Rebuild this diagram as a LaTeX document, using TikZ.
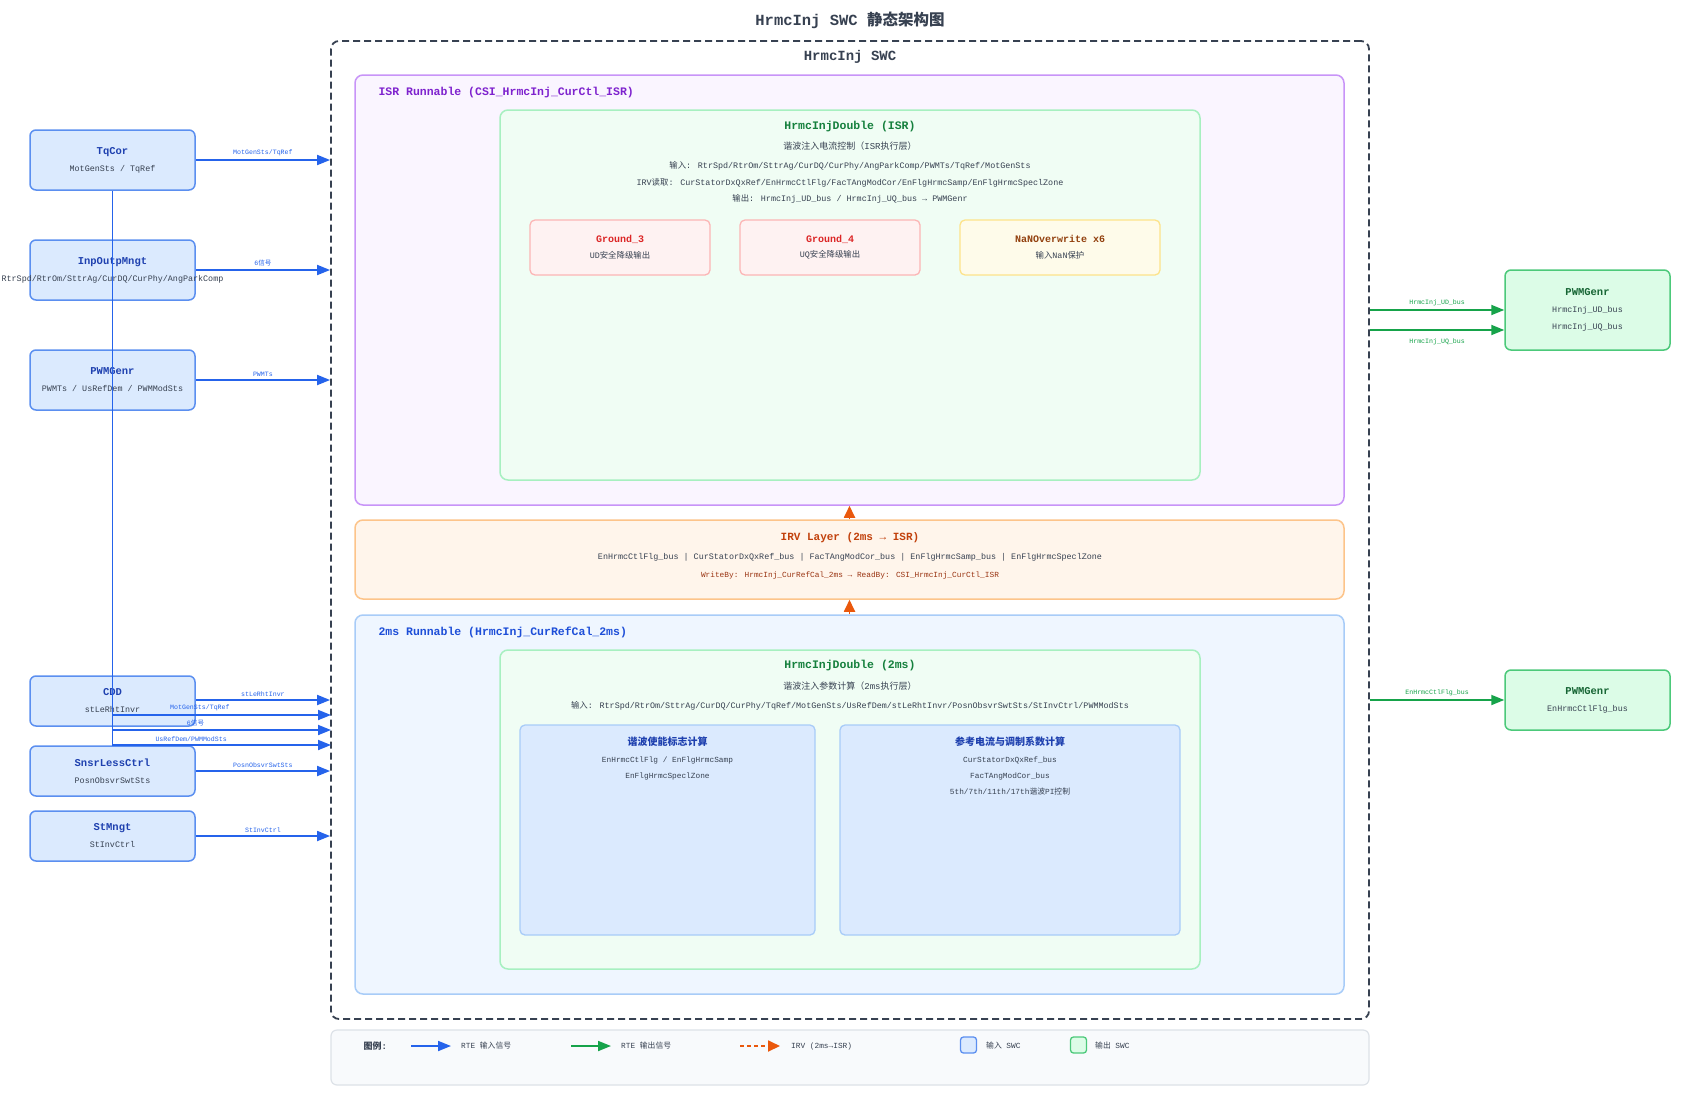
\documentclass[tikz,border=0pt]{standalone}
\usepackage{fontspec}
\setmainfont{Liberation Mono}
\newfontfamily\cjk{Noto Sans CJK SC}
\usepackage{xcolor}
\usepackage{tikz}
\usetikzlibrary{arrows.meta}
\definecolor{swcline}{HTML}{374151}
\definecolor{subtx}{HTML}{374151}
\definecolor{inbg}{HTML}{DBEAFE}
\definecolor{inline}{HTML}{5B8FF0}
\definecolor{intit}{HTML}{1E40AF}
\definecolor{rteblue}{HTML}{2563EB}
\definecolor{outbg}{HTML}{DCFCE7}
\definecolor{outline}{HTML}{4CC97A}
\definecolor{outtit}{HTML}{166534}
\definecolor{rtegreen}{HTML}{16A34A}
\definecolor{isrbg}{HTML}{FAF5FF}
\definecolor{isrline}{HTML}{C894F8}
\definecolor{isrtit}{HTML}{7E22CE}
\definecolor{dblbg}{HTML}{F0FDF4}
\definecolor{dblline}{HTML}{A7F0C0}
\definecolor{dbltit}{HTML}{15803D}
\definecolor{gndbg}{HTML}{FEF2F2}
\definecolor{gndline}{HTML}{FCB5B5}
\definecolor{gndtit}{HTML}{DC2626}
\definecolor{nanbg}{HTML}{FEFBEA}
\definecolor{nanline}{HTML}{FDE38A}
\definecolor{nantit}{HTML}{92400E}
\definecolor{irvbg}{HTML}{FFF5EB}
\definecolor{irvline}{HTML}{FDC48A}
\definecolor{irvtit}{HTML}{C2410C}
\definecolor{irvsub}{HTML}{9A3412}
\definecolor{irvarr}{HTML}{EA580C}
\definecolor{msbg}{HTML}{EFF6FF}
\definecolor{msline}{HTML}{A8CCF8}
\definecolor{mstit}{HTML}{1D4ED8}
\definecolor{legbg}{HTML}{F8FAFC}
\definecolor{legline}{HTML}{DDE2E8}
\newcommand\fsz[1]{\fontsize{#1}{#1}\selectfont}
\newcommand\titin[1]{{\fontsize{10.5}{17}\selectfont\bfseries\color{intit}#1}}
\newcommand\titout[1]{{\fontsize{10.5}{17}\selectfont\bfseries\color{outtit}#1}}
\tikzset{
  swc/.style={draw=swcline,line width=1.8pt,dash pattern=on 7pt off 4pt,rounded corners=8pt},
  insw/.style={draw=inline,fill=inbg,line width=1.5pt,rounded corners=6pt,align=center,
    text=subtx,font=\fontsize{8.4}{17}\selectfont,minimum width=165pt},
  outsw/.style={draw=outline,fill=outbg,line width=1.5pt,rounded corners=6pt,align=center,
    text=subtx,font=\fontsize{8.4}{17}\selectfont,minimum width=165pt},
  capa/.style={line width=1.5pt,rounded corners=8pt},
  caja/.style={line width=1.3pt,rounded corners=5pt},
  txt/.style={text=subtx,font=\fsz{8.4},inner sep=0pt},
  rte/.style={draw=rteblue,line width=1.8pt,-{Triangle[length=13pt,width=10pt]}},
  rteout/.style={draw=rtegreen,line width=1.8pt,-{Triangle[length=13pt,width=10pt]}},
  irv/.style={draw=irvarr,line width=1.8pt,-{Triangle[length=12pt,width=11pt]}},
  lbl/.style={text=rteblue,font=\fsz{6.6},inner sep=3pt},
  lblout/.style={text=rtegreen,font=\fsz{6.6},inner sep=3pt}
}
\begin{document}
\begin{tikzpicture}[x=1pt,y=-1pt]
\fill[white] (0,0) rectangle (1700,1100);
\node[font=\fsz{15.5}\bfseries,text=swcline] (titulo) at (850,20) {HrmcInj SWC {\cjk 静态架构图}};
\node[swc,minimum width=1038pt,minimum height=978pt] (swc) at (850,530) {};
\node[font=\fsz{14}\bfseries,text=swcline] (swclbl) at (850,57) {HrmcInj SWC};
% ISR
\node[capa,draw=isrline,fill=isrbg,minimum width=989pt,minimum height=430pt] (isr) at (849.5,290) {};
\node[anchor=west,font=\fsz{11.5}\bfseries,text=isrtit] (isrlbl) at (375,93) {ISR Runnable (CSI\_HrmcInj\_CurCtl\_ISR)};
\node[capa,draw=dblline,fill=dblbg,minimum width=700pt,minimum height=370pt] (dblisr) at (850,295) {};
\node[font=\fsz{11.5}\bfseries,text=dbltit] (dblisrt) at (850,127) {HrmcInjDouble (ISR)};
\node[txt,font=\fsz{9}] (dblisr1) at (850,146) {{\cjk 谐波注入电流控制（}ISR{\cjk 执行层）}};
\node[txt] (dblisr2) at (850,166) {{\cjk 输入}: RtrSpd/RtrOm/SttrAg/CurDQ/CurPhy/AngParkComp/PWMTs/TqRef/MotGenSts};
\node[txt] (dblisr3) at (850,183) {IRV{\cjk 读取}: CurStatorDxQxRef/EnHrmcCtlFlg/FacTAngModCor/EnFlgHrmcSamp/EnFlgHrmcSpeclZone};
\node[txt] (dblisr4) at (850,199) {{\cjk 输出}: HrmcInj\_UD\_bus / HrmcInj\_UQ\_bus → PWMGenr};
\node[caja,draw=gndline,fill=gndbg,minimum width=180pt,minimum height=55pt] (gnd3) at (620,247.5) {};
\node[font=\fsz{10}\bfseries,text=gndtit] (gnd3t) at (620,239) {Ground\_3};
\node[txt] (gnd3s) at (620,255) {UD{\cjk 安全降级输出}};
\node[caja,draw=gndline,fill=gndbg,minimum width=180pt,minimum height=55pt] (gnd4) at (830,247.5) {};
\node[font=\fsz{10}\bfseries,text=gndtit] (gnd4t) at (830,239) {Ground\_4};
\node[txt] (gnd4s) at (830,255) {UQ{\cjk 安全降级输出}};
\node[caja,draw=nanline,fill=nanbg,minimum width=200pt,minimum height=55pt] (nan) at (1060,247.5) {};
\node[font=\fsz{10}\bfseries,text=nantit] (nant) at (1060,239) {NaNOverwrite x6};
\node[txt] (nans) at (1060,255) {{\cjk 输入}NaN{\cjk 保护}};
% IRV
\node[capa,draw=irvline,fill=irvbg,minimum width=989pt,minimum height=79pt] (irvl) at (849.5,559.5) {};
\node[font=\fsz{11}\bfseries,text=irvtit] (irvt) at (850,538) {IRV Layer (2ms → ISR)};
\node[txt] (irvs) at (850,557) {EnHrmcCtlFlg\_bus | CurStatorDxQxRef\_bus | FacTAngModCor\_bus | EnFlgHrmcSamp\_bus | EnFlgHrmcSpeclZone};
\node[txt,text=irvsub,font=\fsz{7.8}] (irvw) at (850,575) {WriteBy: HrmcInj\_CurRefCal\_2ms → ReadBy: CSI\_HrmcInj\_CurCtl\_ISR};
% 2ms
\node[capa,draw=msline,fill=msbg,minimum width=989pt,minimum height=379pt] (ms) at (849.5,804.5) {};
\node[anchor=west,font=\fsz{11.5}\bfseries,text=mstit] (mslbl) at (375,632) {2ms Runnable (HrmcInj\_CurRefCal\_2ms)};
\node[capa,draw=dblline,fill=dblbg,minimum width=700pt,minimum height=319pt] (dblms) at (850,809.5) {};
\node[font=\fsz{11.5}\bfseries,text=dbltit] (dblmst) at (850,666) {HrmcInjDouble (2ms)};
\node[txt,font=\fsz{9}] (dblms1) at (850,686) {{\cjk 谐波注入参数计算（}2ms{\cjk 执行层）}};
\node[txt] (dblms2) at (850,706) {{\cjk 输入}: RtrSpd/RtrOm/SttrAg/CurDQ/CurPhy/TqRef/MotGenSts/UsRefDem/stLeRhtInvr/PosnObsvrSwtSts/StInvCtrl/PWMModSts};
\node[caja,draw=msline,fill=inbg,minimum width=295pt,minimum height=210pt] (calc1) at (667.5,830) {};
\node[font=\fsz{10}\bfseries,text=intit] (calc1t) at (667.5,742) {\cjk 谐波使能标志计算};
\node[txt,font=\fsz{7.8}] (calc1a) at (667.5,760) {EnHrmcCtlFlg / EnFlgHrmcSamp};
\node[txt,font=\fsz{7.8}] (calc1b) at (667.5,776) {EnFlgHrmcSpeclZone};
\node[caja,draw=msline,fill=inbg,minimum width=340pt,minimum height=210pt] (calc2) at (1010,830) {};
\node[font=\fsz{10}\bfseries,text=intit] (calc2t) at (1010,742) {\cjk 参考电流与调制系数计算};
\node[txt,font=\fsz{7.8}] (calc2a) at (1010,760) {CurStatorDxQxRef\_bus};
\node[txt,font=\fsz{7.8}] (calc2b) at (1010,776) {FacTAngModCor\_bus};
\node[txt,font=\fsz{7.8}] (calc2c) at (1010,792) {5th/7th/11th/17th{\cjk 谐波}PI{\cjk 控制}};
\draw[irv] (irvl.north) -- (isr.south);
\draw[irv] (ms.north) -- (irvl.south);
% input SWCs
\node[insw,minimum height=60pt] (tqcor) at (112.5,160) {\titin{TqCor}\\MotGenSts / TqRef};
\node[insw,minimum height=60pt] (inpout) at (112.5,270) {\titin{InpOutpMngt}\\\makebox[0pt]{RtrSpd/RtrOm/SttrAg/CurDQ/CurPhy/AngParkComp}};
\node[insw,minimum height=60pt] (pwmin) at (112.5,380) {\titin{PWMGenr}\\PWMTs / UsRefDem / PWMModSts};
\node[insw,minimum height=50pt] (cdd) at (112.5,701) {\titin{CDD}\\stLeRhtInvr};
\node[insw,minimum height=50pt] (snsr) at (112.5,771) {\titin{SnsrLessCtrl}\\PosnObsvrSwtSts};
\node[insw,minimum height=50pt] (stm) at (112.5,836) {\titin{StMngt}\\StInvCtrl};
\coordinate (jtq) at (331,715);
\coordinate (jinp) at (331,730);
\coordinate (jpwm) at (331,745);
\draw[rte] (tqcor.east) -- (tqcor.east -| swc.west) node[midway,above,lbl]{MotGenSts/TqRef};
\draw[rte] (inpout.east) -- (inpout.east -| swc.west) node[midway,above,lbl]{6{\cjk 信号}};
\draw[rte] (pwmin.east) -- (pwmin.east -| swc.west) node[midway,above,lbl]{PWMTs};
\draw[rte] (cdd.east |- 0,700) -- (swc.west |- 0,700) node[midway,above,lbl]{stLeRhtInvr};
\draw[rte] (tqcor.south) |- (jtq) node[pos=0.7,above,lbl]{MotGenSts/TqRef};
\draw[rte] (inpout.south) |- (jinp) node[pos=0.69,above,lbl]{6{\cjk 信号}};
\draw[rte] (pwmin.south) |- (jpwm) node[pos=0.68,above,lbl]{UsRefDem/PWMModSts};
\draw[rte] (snsr.east) -- (snsr.east -| swc.west) node[midway,above,lbl]{PosnObsvrSwtSts};
\draw[rte] (stm.east) -- (stm.east -| swc.west) node[midway,above,lbl]{StInvCtrl};
% output SWCs
\node[outsw,minimum height=80pt] (pwmud) at (1587.5,310) {\titout{PWMGenr}\\HrmcInj\_UD\_bus\\HrmcInj\_UQ\_bus};
\node[outsw,minimum height=60pt] (pwmen) at (1587.5,700) {\titout{PWMGenr}\\EnHrmcCtlFlg\_bus};
\draw[rteout] (swc.east |- pwmud) -- (pwmud.west) node[midway,above,lblout]{HrmcInj\_UD\_bus};
\draw[rteout] (swc.east |- 0,330) -- (pwmud.west |- 0,330) node[midway,below,lblout,yshift=-5pt]{HrmcInj\_UQ\_bus};
\draw[rteout] (swc.east |- pwmen) -- (pwmen.west) node[midway,above,lblout]{EnHrmcCtlFlg\_bus};
% legend
\node[draw=legline,fill=legbg,line width=1.2pt,rounded corners=6pt,minimum width=1038pt,minimum height=55pt] (leyenda) at (850,1057.5) {};
\node[anchor=west,font=\fsz{9}\bfseries,text=subtx] (lgtit) at (360,1046) {{\cjk 图例}:};
\node[anchor=west,txt,font=\fsz{7.8}] (lgin) at (461,1046) {RTE {\cjk 输入信号}};
\node[anchor=west,txt,font=\fsz{7.8}] (lgout) at (621,1046) {RTE {\cjk 输出信号}};
\node[anchor=west,txt,font=\fsz{7.8}] (lgirv) at (791,1046) {IRV (2ms→ISR)};
\node[caja,draw=inline,fill=inbg,minimum size=16pt,inner sep=0pt,rounded corners=3pt] (lgsqin) at (968.5,1045) {};
\node[anchor=west,txt,font=\fsz{7.8}] (lgsin) at (986,1046) {{\cjk 输入} SWC};
\node[caja,draw=outline,fill=outbg,minimum size=16pt,inner sep=0pt,rounded corners=3pt] (lgsqout) at (1078.5,1045) {};
\node[anchor=west,txt,font=\fsz{7.8}] (lgsout) at (1095,1046) {{\cjk 输出} SWC};
\draw[rte] (411,1046) -- ([xshift=-10pt]lgin.west);
\draw[rteout] (571,1046) -- ([xshift=-10pt]lgout.west);
\draw[irv,dash pattern=on 4pt off 3pt] (740,1046) -- ([xshift=-11pt]lgirv.west);
\end{tikzpicture}
\end{document}
